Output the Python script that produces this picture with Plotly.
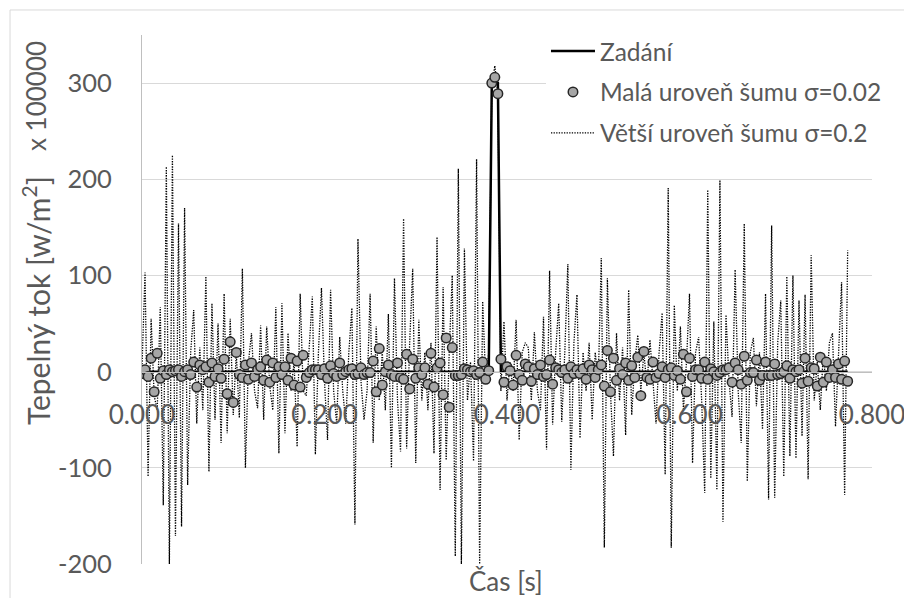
import plotly.graph_objects as go

# ---- data ----
N = 233                      # samples, dt = 1/300 s
t = [k / 300 for k in range(N)]

zadani = [0.0] * 115 + [300.0] * 3 + [0.0] * 115

mala_sum = [
    -2, 2, -5, 14, -21, 19, -7, 1, -3, 2,
    0, 1, 2, -5, 0, 2, -3, 10, -16, 7,
    2, 5, -11, 9, -5, 3, -7, 13, -23, 31,
    -32, 20, -3, -6, 7, -8, 9, -5, 2, 5,
    -9, 12, -11, 9, -6, 5, -3, 5, -9, 14,
    -14, 11, -16, 17, -6, -1, 2, 2, 2, -3,
    3, -7, 6, -2, -5, 9, -3, 0, 2, 3,
    -3, -2, 4, -3, -1, -1, 11, -21, 24, -14,
    0, 7, -3, -5, 9, -6, -8, 18, -18, 13,
    -7, 4, -3, 4, -13, 19, -16, 4, 9, -24,
    35, -37, 25, -4, -4, -3, 3, 2, 0, 1,
    -3, -1, 10, -8, 1, 300, 306, 289, 13, -11,
    5, 1, -14, 17, -3, -9, 8, 5, -10, 3,
    -3, 7, -5, -3, 12, -13, 4, 2, -1, 2,
    -7, 5, -2, 2, -2, 3, -8, 7, 2, -6,
    2, 7, -15, 22, -21, 14, -9, 3, -3, 9,
    -9, 6, -6, 15, -25, 21, -6, -8, 10, -6,
    -2, 5, -6, 2, 4, -4, 1, -8, 18, -21,
    14, -5, 2, 2, -7, 10, -8, 3, 0, -4,
    -1, 2, 2, 4, -11, 9, 2, -13, 16, -9,
    -1, -1, 12, -9, -4, 10, -4, -4, 8, -3,
    -2, 0, 6, -7, 2, 0, 2, -12, 14, -10,
    4, 3, -15, 15, -11, 10, -6, 2, -6, 8,
    -8, 11, -10,
]

vetsi_sum = [
    5, 103, -109, 55, -25, -40, 67, -139, 213, -200,
    225, -171, 154, -161, 170, -118, 20, 64, -54, 25,
    -40, 99, -104, 71, -50, 50, -74, 81, -64, 55,
    -45, 20, -48, 107, -100, 10, 40, -20, -38, 48,
    -50, 47, -15, -40, 67, -85, 71, -64, 40, -20,
    10, -78, 81, -20, -25, 30, 78, -86, 20, 87,
    -10, -71, 85, -20, -54, 36, -20, -54, 20, 66,
    -159, 138, -10, -50, -20, 81, -74, 47, -30, 20,
    -40, 60, -100, 97, -30, -83, 159, -80, 30, 107,
    -95, 54, -30, 20, -40, 30, -85, 140, -123, 88,
    -92, 20, 100, -192, 211, -200, 128, -30, 10, -93,
    221, -200, 73, -10, 20, 295, 318, 290, -20, 52,
    -30, 10, -20, 54, -71, 20, 30, 25, -30, 41,
    -20, -40, 57, -81, 105, -55, 20, 71, -52, 20,
    112, -102, 30, 80, -69, 20, -20, 30, -50, 20,
    -10, 118, -183, 97, -20, -88, 40, -30, 25, -66,
    85, -45, 10, 38, -20, 20, -15, 33, -10, -54,
    20, 61, -107, 191, -183, 69, -20, 47, -40, 10,
    81, -95, 20, 36, -30, -126, 189, -111, 52, -123,
    199, -156, 59, -10, -47, 106, -20, -74, 154, -114,
    20, 35, -36, 20, -60, 81, -133, 152, -131, 30,
    74, -109, 99, -88, 100, -90, 74, -67, 80, -112,
    121, -30, 10, -40, 20, -20, 30, 40, -57, 20,
    93, -128, 126,
]

x_ticks = [0.0, 0.2, 0.4, 0.6, 0.8]
x_ticktext = ["0.000", "0.200", "0.400", "0.600", "0.800"]
y_ticks = [-200, -100, 0, 100, 200, 300]
y_ticktext = ["-200", "-100", "0", "100", "200", "300"]

names = ["Zadání", "Malá uroveň šumu σ=0.02", "Větší uroveň šumu σ=0.2"]

FONT = "Lato"
GREY = "#595959"

fig = go.Figure()
fig.add_trace(go.Scatter(
    x=t, y=vetsi_sum, mode="lines", name=names[2],
    line=dict(color="black", width=1.3, dash="1.3px,1.3px"),
    legendrank=3, legendgroup="c"))
fig.add_trace(go.Scatter(
    x=t, y=zadani, mode="lines", name=names[0],
    line=dict(color="black", width=2.5),
    legendrank=1, legendgroup="a"))
fig.add_trace(go.Scatter(
    x=t, y=mala_sum, mode="markers", name=names[1],
    marker=dict(size=9.5, color="#a6a6a6", line=dict(color="#262626", width=1.5)),
    legendrank=2, legendgroup="b"))

fig.update_layout(
    width=904, height=598,
    margin=dict(l=142, r=32, t=35, b=34, autoexpand=False),
    paper_bgcolor="white", plot_bgcolor="white",
    font=dict(family=FONT, color=GREY),
    showlegend=True,
    legend=dict(
        x=0.5534, y=1.012, xanchor="left", yanchor="top",
        bgcolor="white", borderwidth=0,
        font=dict(family=FONT, size=24.5, color=GREY),
        traceorder="grouped", tracegroupgap=6, itemwidth=44,
    ),
    xaxis=dict(
        range=[0, 0.8], tickvals=x_ticks, ticktext=x_ticktext,
        showgrid=False, zeroline=False, automargin=False,
        showline=True, linecolor="#bfbfbf", linewidth=1,
        anchor="free", position=200 / 550,
        ticks="", ticklabelstandoff=20, ticklabeloverflow="allow",
        tickfont=dict(family=FONT, size=26, color=GREY),
    ),
    yaxis=dict(
        range=[-200, 350], tickvals=y_ticks, ticktext=y_ticktext,
        showgrid=True, gridcolor="#d9d9d9", gridwidth=1, automargin=False,
        zeroline=False, showline=True, linecolor="#bfbfbf", linewidth=1,
        ticks="", ticklabelstandoff=24,
        tickfont=dict(family=FONT, size=25.5, color=GREY),
    ),
    annotations=[
        dict(text="Čas [s]", xref="paper", yref="paper", x=0.4986, y=-0.0321,
             xanchor="center", yanchor="middle", showarrow=False,
             font=dict(family=FONT, size=26, color=GREY)),
        dict(text="Tepelný tok [w/m<sup>2</sup>]", xref="paper", yref="paper",
             x=-0.1452, y=0.497, textangle=-90, xanchor="center", yanchor="middle",
             showarrow=False, font=dict(family=FONT, size=30, color=GREY)),
        dict(text="x 100000", xref="paper", yref="paper",
             x=-0.1452, y=0.8847, textangle=-90, xanchor="center", yanchor="middle",
             showarrow=False, font=dict(family=FONT, size=26, color=GREY)),
    ],
    shapes=[
        dict(type="rect", xref="paper", yref="paper",
             x0=-0.1808, x1=1.06, y0=-0.1, y1=1.0473,
             line=dict(color="#d9d9d9", width=1), fillcolor="rgba(0,0,0,0)",
             layer="below"),
    ],
)

fig.write_html("out.html")
